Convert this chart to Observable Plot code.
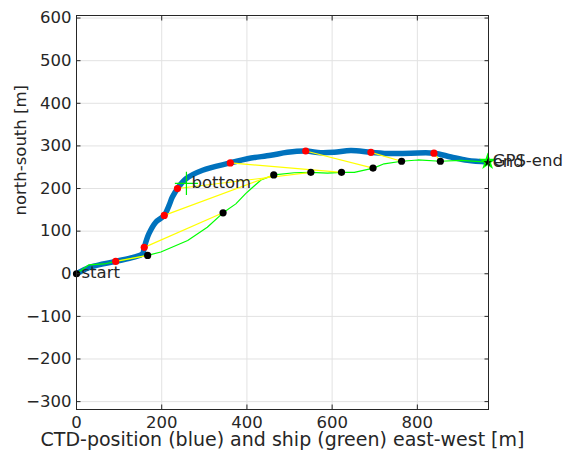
<!DOCTYPE html>
<html><head><meta charset="utf-8">
<script src="https://cdn.jsdelivr.net/npm/d3@7"></script>
<script src="https://cdn.jsdelivr.net/npm/@observablehq/plot@0.6"></script>
<style>body{margin:0;background:#fff;} #chart svg{display:block;overflow:visible;}</style>
</head><body><div id="chart"></div>
<script>
// CTD track (blue), east-west / north-south [m]
const ctdX = [0, 34, 92, 135, 155, 159, 170, 186, 206, 217, 225, 237, 257, 296, 361, 401, 456, 495, 538, 573, 605, 644, 691, 738, 785, 839, 879, 918, 965];
const ctdY = [0, 16, 29, 39, 47, 62, 94, 121, 137, 160, 180, 200, 223, 243, 260, 270, 278, 285, 288, 284, 285, 289, 285, 282, 283, 283, 274, 266, 262];
// Ship track (green)
const shipX = [0, 29, 65, 92, 130, 167, 198, 261, 307, 344, 374, 397, 409, 433, 464, 511, 550, 589, 622, 652, 697, 722, 763, 801, 854, 902, 965];
const shipY = [0, 21, 23, 29, 36, 43, 51, 78, 109, 143, 164, 188, 199, 220, 232, 237, 238, 236, 238, 238, 248, 258, 264, 267, 264, 266, 262];
// matched positions: CTD (red) and ship (black)
const ctdDotX = [92, 159, 206, 237, 361, 538, 691, 839];
const ctdDotY = [29, 62, 137, 200, 260, 288, 285, 283];
const shipDotX = [167, 344, 463, 550, 622, 696, 763, 854];
const shipDotY = [43, 143, 232, 238, 238, 248, 264, 264];
// annotations
const labelNames = ["start", "bottom", "end", "GPS-end"];
const labelX = [0, 258, 965, 965];
const labelY = [0, 212, 261, 263];
const xTicks = [0, 200, 400, 600, 800];
const yTicks = [-300, -200, -100, 0, 100, 200, 300, 400, 500, 600];
const xLabel = "CTD-position (blue) and ship (green) east-west [m]";
const yLabel = "north-south [m]";

const ctd = ctdX.map((x, i) => ({x, y: ctdY[i]}));
const ship = shipX.map((x, i) => ({x, y: shipY[i]}));
const reds = ctdDotX.map((x, i) => ({x, y: ctdDotY[i]}));
const blacks = shipDotX.map((x, i) => ({x, y: shipDotY[i]}));
const pairs = ctdDotX.map((x, i) => ({x1: x, y1: ctdDotY[i], x2: shipDotX[i], y2: shipDotY[i]}));
const labels = labelNames.map((t, i) => ({t, x: labelX[i], y: labelY[i]}));

const ink = "#262626";
const chart = Plot.plot({
  width: 568, height: 455,
  marginLeft: 76, marginRight: 80, marginTop: 15, marginBottom: 46,
  x: {domain: [0, 967]},
  y: {domain: [-318.5, 606]},
  style: {fontFamily: "DejaVu Sans", fontSize: "16.5px", color: ink, background: "#fff", overflow: "visible"},
  marks: [
    Plot.gridX(xTicks, {stroke: "#e2e2e2", strokeOpacity: 1}),
    Plot.gridY(yTicks, {stroke: "#e2e2e2", strokeOpacity: 1}),
    Plot.line(ctd, {x: "x", y: "y", stroke: "#0072BD", strokeWidth: 5.5, strokeLinejoin: "round", strokeLinecap: "round", curve: "catmull-rom"}),
    Plot.line(ship, {x: "x", y: "y", stroke: "#00ff00", strokeWidth: 1.2}),
    Plot.link(pairs, {x1: "x1", y1: "y1", x2: "x2", y2: "y2", stroke: "#ffff00", strokeWidth: 1.2}),
    Plot.dot(reds, {x: "x", y: "y", r: 3.6, fill: "#ff0000"}),
    Plot.dot(blacks, {x: "x", y: "y", r: 3.6, fill: "#000"}),
    Plot.dot(labels.slice(0, 1), {x: "x", y: "y", r: 3.6, fill: "#000"}),
    Plot.dot(labels.slice(1, 2), {x: "x", y: "y", symbol: "plus", r: 7.5, stroke: "#00ee00", strokeWidth: 1.2}),
    Plot.dot(labels.slice(3, 4), {x: "x", y: "y", symbol: "star", r: 5.5, fill: "#00ff00"}),
    Plot.dot(labels.slice(2, 3), {x: "x", y: "y", symbol: "star", r: 2.6, fill: "#000"}),
    Plot.text(labels, {x: "x", y: "y", text: "t", textAnchor: "start", dx: 5, dy: -1, fill: ink, fontSize: 16.5}),
    Plot.axisX(xTicks, {anchor: "bottom", tickSize: -4.5, tickPadding: 11.5, label: null, stroke: ink, fill: ink}),
    Plot.axisX(xTicks, {anchor: "top", tickSize: -4.5, tickFormat: () => "", label: null, stroke: ink}),
    Plot.axisY(yTicks, {anchor: "left", tickSize: -4.5, tickPadding: 9.5, label: null, stroke: ink, fill: ink}),
    Plot.axisY(yTicks, {anchor: "right", tickSize: -4.5, tickFormat: () => "", label: null, stroke: ink}),
    Plot.frame({stroke: ink}),
    Plot.text([xLabel], {frameAnchor: "bottom", dy: 36, fill: ink, fontSize: 19}),
    Plot.text([yLabel], {frameAnchor: "left", rotate: -90, dx: -56, dy: 3, fill: ink, fontSize: 16.5})
  ]
});
document.getElementById("chart").append(chart);
</script>
</body></html>
